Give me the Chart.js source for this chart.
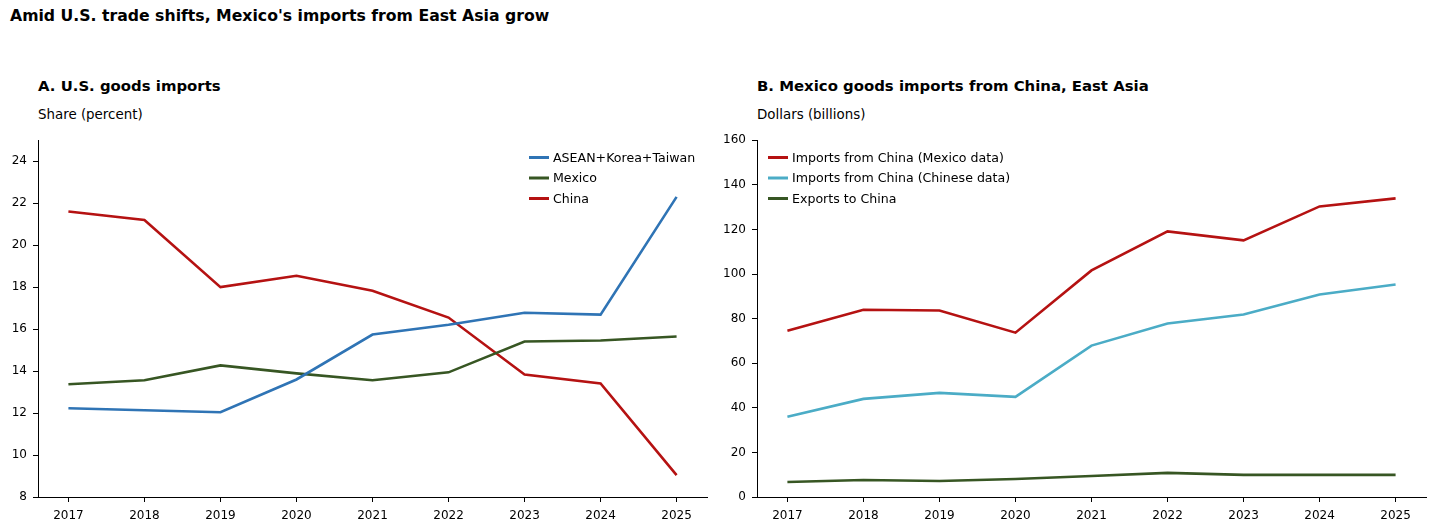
<!DOCTYPE html>
<html><head><meta charset="utf-8">
<script src="https://cdn.jsdelivr.net/npm/chart.js@4.4.1/dist/chart.umd.min.js"></script>
<style>
html,body{margin:0;padding:0;background:#fff;width:1434px;height:529px;overflow:hidden;font-family:"DejaVu Sans",sans-serif;color:#000}
.t{position:absolute;white-space:nowrap}
#title{left:10px;top:6px;font-size:15.7px;font-weight:bold}
.sub{font-size:14.9px;font-weight:bold}
.unit{font-size:13.4px}
.c{position:absolute}
</style></head><body>
<div id="title" class="t">Amid U.S. trade shifts, Mexico's imports from East Asia grow</div>
<div class="t sub" style="left:38px;top:77px">A. U.S. goods imports</div>
<div class="t unit" style="left:38px;top:107px">Share (percent)</div>
<div class="t sub" style="left:757px;top:77px">B. Mexico goods imports from China, East Asia</div>
<div class="t unit" style="left:757px;top:107px">Dollars (billions)</div>
<div class="c" style="left:0;top:127px;width:720px;height:402px"><canvas id="c1" width="720" height="402"></canvas></div>
<div class="c" style="left:720px;top:127px;width:714px;height:402px"><canvas id="c2" width="714" height="402"></canvas></div>
<script>
const years = [2017, 2018, 2019, 2020, 2021, 2022, 2023, 2024, 2025];
// Panel A: share of U.S. goods imports (percent)
const aseanShare = [12.23, 12.13, 12.04, 13.6, 15.74, 16.21, 16.78, 16.69, 22.3];
const mexicoShare = [13.37, 13.56, 14.27, 13.89, 13.56, 13.94, 15.41, 15.46, 15.65];
const chinaShare = [21.6, 21.2, 18.0, 18.54, 17.83, 16.55, 13.84, 13.41, 9.04];
const leftTicks = [8, 10, 12, 14, 16, 18, 20, 22, 24];
// Panel B: Mexico goods trade with China (billions of dollars)
const importsMexData = [74.5, 84.0, 83.6, 73.7, 101.6, 119.1, 115.1, 130.3, 133.9];
const importsChnData = [36.0, 44.0, 46.7, 44.9, 67.9, 77.8, 81.8, 90.8, 95.3];
const exportsToChina = [6.7, 7.6, 7.2, 8.1, 9.4, 10.8, 9.9, 9.9, 9.9];
const rightTicks = [0, 20, 40, 60, 80, 100, 120, 140, 160];

const RED = '#b51212', BLUE = '#2f74b5', GREEN = '#375623', LBLUE = '#4bacc6';
const FONT = {family: '"DejaVu Sans", sans-serif', size: 12};

function pts(v){ return years.map((y,i)=>({x:y, y:v[i]})); }

const innerLegend = {
  id: 'innerLegend',
  afterDraw(chart, args, opts){
    const ctx = chart.ctx;
    ctx.save();
    ctx.font = '12.6px "DejaVu Sans", sans-serif';
    ctx.textBaseline = 'middle';
    chart.data.datasets.forEach((ds, i) => {
      const y = opts.y + i * opts.dy;
      ctx.strokeStyle = ds.borderColor;
      ctx.lineWidth = 3;
      ctx.beginPath();
      ctx.moveTo(opts.x, y); ctx.lineTo(opts.x + 20, y);
      ctx.stroke();
      ctx.fillStyle = '#000';
      ctx.fillText(ds.label, opts.x + 24, y + 1);
    });
    ctx.restore();
  }
};

function makeChart(id, datasets, ymin, ymax, yticks, yw, rightPad, legendX){
  return new Chart(document.getElementById(id), {
    type: 'line',
    data: {datasets},
    plugins: [innerLegend],
    options: {
      responsive: false, animation: false,
      layout: {padding: {top: 8, right: rightPad, left: 0, bottom: 0}},
      elements: {point: {radius: 0}, line: {borderWidth: 2.6, tension: 0}},
      plugins: {legend: {display: false}, tooltip: {enabled: false},
        innerLegend: {x: legendX, y: 30.5, dy: 20.5}},
      scales: {
        x: {type: 'linear', min: 2016.6, max: 2025.4,
          afterBuildTicks: ax => { ax.ticks = years.map(v => ({value: v})); },
          afterFit: s => { s.height = 32; },
          grid: {display: true, drawOnChartArea: false, drawTicks: true, tickLength: 5, color: '#000'},
          border: {display: true, color: '#000', width: 1},
          ticks: {font: FONT, color: '#000', padding: 7, maxRotation: 0, callback: v => String(v)}},
        y: {min: ymin, max: ymax,
          afterBuildTicks: ax => { ax.ticks = yticks.map(v => ({value: v})); },
          afterFit: s => { s.width = yw; },
          grid: {display: true, drawOnChartArea: false, drawTicks: true, tickLength: 5, color: '#000'},
          border: {display: true, color: '#000', width: 1},
          ticks: {font: FONT, color: '#000', padding: 6, callback: v => String(v)}}
      }
    }
  });
}

makeChart('c1', [
  {label: 'ASEAN+Korea+Taiwan', data: pts(aseanShare), borderColor: BLUE},
  {label: 'Mexico', data: pts(mexicoShare), borderColor: GREEN},
  {label: 'China', data: pts(chinaShare), borderColor: RED}
], 8, 25, leftTicks, 38, 13, 529);

makeChart('c2', [
  {label: 'Imports from China (Mexico data)', data: pts(importsMexData), borderColor: RED},
  {label: 'Imports from China (Chinese data)', data: pts(importsChnData), borderColor: LBLUE},
  {label: 'Exports to China', data: pts(exportsToChina), borderColor: GREEN}
], 0, 160, rightTicks, 37, 8, 48);
</script>
</body></html>
